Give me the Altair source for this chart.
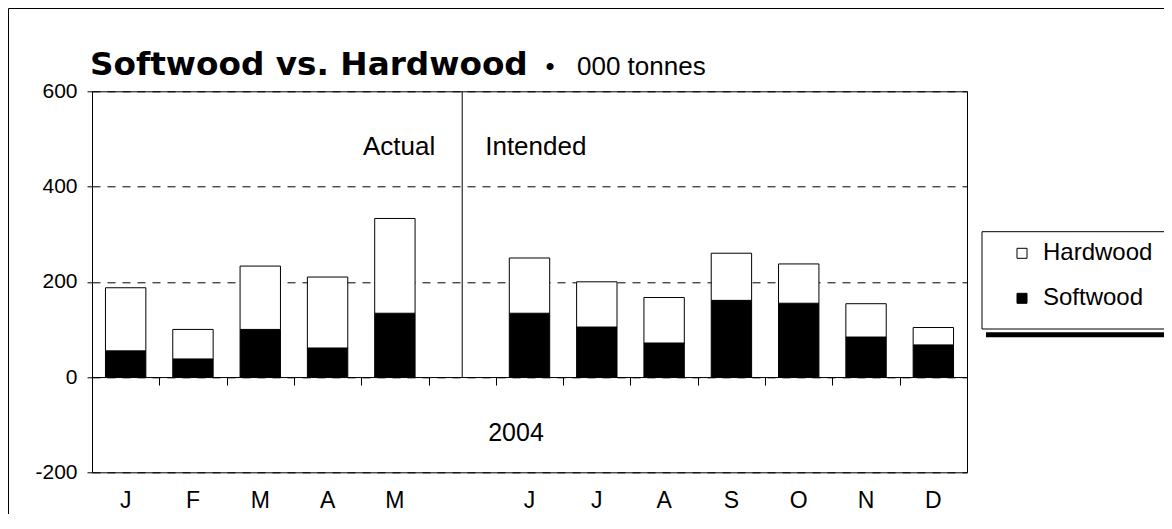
import json
import altair as alt
import pandas as pd

# ---- data ----
months = ["J", "F", "M", "A", "M", "", "J", "J", "A", "S", "O", "N", "D"]
softwood = [55, 38, 100, 61, 134, None, 134, 105, 71.5, 161, 155, 84, 67.5]
hardwood = [132.5, 62, 133, 149, 199, None, 116, 95, 95.5, 99, 82.5, 70, 36.5]
series = ["Hardwood", "Softwood"]
series_colors = ["white", "black"]
y_ticks = [-200, 0, 200, 400, 600]
notes = ["Actual", "Intended", "2004"]
note_slot = [5, 5, 6]
note_y = [467, 467, -133.6]
title_main = "Softwood vs. Hardwood"
title_bullet = "\u2022"
title_unit = "000 tonnes"
divider_slot = [5]

rows = []
for i in range(len(months)):
    if softwood[i] is None:
        continue
    rows.append({"slot": i, "wood": "Softwood", "value": softwood[i], "ord": 0})
    rows.append({"slot": i, "wood": "Hardwood", "value": hardwood[i], "ord": 1})
df = pd.DataFrame(rows)

W, H = 875, 381
PL, PT, PR, PB = 84, 83.3, 197, 41.7
step = W / len(months)
FONT = "Liberation Sans, Arial, Helvetica, sans-serif"
ymin, ymax = -200, 600
zero_offset = -(H - (ymax - 0) / (ymax - ymin) * H)

xscale = alt.Scale(domain=list(range(len(months))), paddingInner=0.4, paddingOuter=0.2)
yscale = alt.Scale(domain=[ymin, ymax], nice=False, zero=False)
label_expr = json.dumps(months) + "[datum.value]"

one = pd.DataFrame({"k": [0]})

frame = alt.Chart(one).mark_rect(fillOpacity=0, stroke="black", strokeWidth=1).encode(
    x=alt.value(-PL + 0.5), x2=alt.value(W + 400),
    y=alt.value(-PT + 0.5), y2=alt.value(H + 400))

legend_box = alt.Chart(one).mark_rect(fill="white", stroke="black", strokeWidth=1).encode(
    x=alt.value(890), x2=alt.value(W + 400),
    y=alt.value(140.4), y2=alt.value(237.7))

legend_shadow = alt.Chart(one).mark_rect(fill="black").encode(
    x=alt.value(894), x2=alt.value(W + 400),
    y=alt.value(241), y2=alt.value(246))

bars = alt.Chart(df).mark_bar(stroke="black", strokeWidth=1).encode(
    x=alt.X("slot:O", scale=xscale,
            axis=alt.Axis(orient="bottom", title=None, domain=False, ticks=False, tickSize=0,
                          labelExpr=label_expr, labelAngle=0, labelFont=FONT, labelFontSize=23,
                          labelColor="black", labelBaseline="alphabetic", labelPadding=35)),
    y=alt.Y("value:Q", scale=yscale, stack="zero",
            axis=alt.Axis(values=y_ticks, title=None, grid=True, gridDash=[8, 7],
                          gridColor="black", gridOpacity=1, domainColor="black",
                          tickColor="black", tickSize=5, labelFont=FONT, labelFontSize=21,
                          labelColor="black", labelPadding=10,
                          labelExpr="'' + datum.value")),
    color=alt.Color("wood:N", scale=alt.Scale(domain=series, range=series_colors),
                    legend=alt.Legend(orient="none", legendX=918, legendY=150, title=None,
                                      symbolType="square", symbolSize=100,
                                      symbolStrokeColor="black", symbolStrokeWidth=1,
                                      labelFont=FONT, labelFontSize=24, labelColor="black",
                                      labelOffset=9, rowPadding=21, padding=0)),
    order=alt.Order("ord:Q"),
)

div_df = pd.DataFrame({"slot": divider_slot, "lo": [0], "hi": [ymax]})
divider = alt.Chart(div_df).mark_rule(color="black", strokeWidth=1).encode(
    x=alt.X("slot:O", scale=xscale,
            axis=alt.Axis(orient="bottom", offset=zero_offset, title=None, labels=False,
                          domain=True, domainColor="black", domainWidth=1,
                          ticks=True, tickColor="black", tickSize=8, tickWidth=1,
                          bandPosition=0, tickOffset=-0.2 * step, grid=False)),
    y=alt.Y("lo:Q", scale=yscale, title=None),
    y2="hi:Q",
)

ann = pd.DataFrame({"text": notes, "slot": note_slot, "y": note_y})


def note(idx, align, dx, size):
    return alt.Chart(ann.iloc[[idx]]).mark_text(
        align=align, baseline="alphabetic", dx=dx, font=FONT, fontSize=size, color="black"
    ).encode(
        x=alt.X("slot:O", scale=xscale, axis=None),
        y=alt.Y("y:Q", scale=yscale, title=None),
        text="text:N",
    )


n_actual = note(0, "right", -27, 26)
n_intended = note(1, "left", 23, 26)
n_year = note(2, "center", -13.5, 25)

t_main = alt.Chart(pd.DataFrame({"t": [title_main]})).mark_text(
    align="left", baseline="alphabetic", font="DejaVu Sans", fontWeight="bold",
    fontSize=32.7, color="black").encode(text="t:N", x=alt.value(-2), y=alt.value(-16.5))
t_bullet = alt.Chart(pd.DataFrame({"t": [title_bullet]})).mark_text(
    align="center", baseline="alphabetic", font=FONT, fontSize=26, color="black"
).encode(text="t:N", x=alt.value(458), y=alt.value(-16.5))
t_unit = alt.Chart(pd.DataFrame({"t": [title_unit]})).mark_text(
    align="left", baseline="alphabetic", font=FONT, fontSize=26, color="black"
).encode(text="t:N", x=alt.value(485), y=alt.value(-16.5))

chart = alt.layer(
    frame, legend_box, legend_shadow, bars, divider,
    n_actual, n_intended, n_year, t_main, t_bullet, t_unit
).properties(
    width=W, height=H,
    autosize=alt.AutoSizeParams(type="none"),
    padding={"left": PL, "top": PT, "right": PR, "bottom": PB},
    background="white",
).resolve_axis(x="independent").configure_view(stroke="black", strokeWidth=1)

chart.save("out.html", embed_options={"renderer": "svg", "actions": False})
